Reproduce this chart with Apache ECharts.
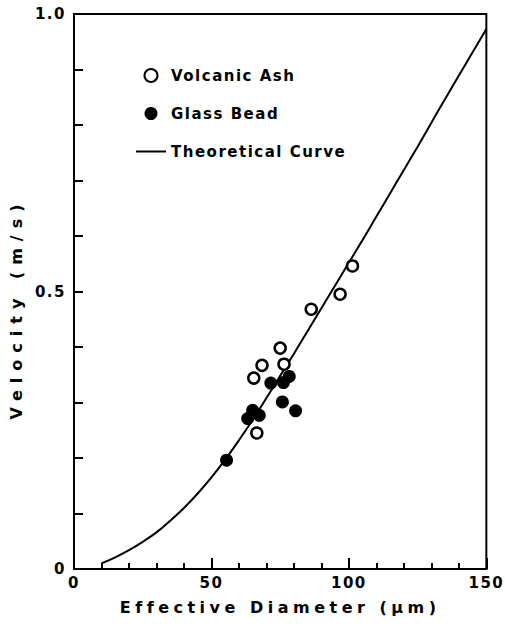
<!DOCTYPE html>
<html>
<head>
<meta charset="UTF-8">
<title>Settling velocity vs effective diameter</title>
<script type="text/javascript" src="https://cdn.jsdelivr.net/npm/echarts@6/dist/echarts.min.js"></script>
<style>
  html, body { margin: 0; padding: 0; background: #fff; }
</style>
</head>
<body>
<div id="main" style="width:505px;height:626px"></div>
<script type="text/javascript">
// measured points: [diameter (um), velocity (m/s)]
var ashPoints = [
  [101.3, 0.546], [96.8, 0.495], [86.3, 0.468], [75.0, 0.398],
  [76.4, 0.369], [68.4, 0.367], [65.4, 0.344], [66.5, 0.245]
];
var beadPoints = [
  [78.3, 0.347], [76.2, 0.336], [71.6, 0.335], [75.8, 0.301],
  [80.6, 0.285], [65.0, 0.286], [67.4, 0.277], [63.2, 0.271], [55.5, 0.196]
];
// theoretical curve
var curveDiameter = [10, 15, 20, 25, 30, 35, 40, 45, 50, 55, 60, 65, 70, 75, 80,
  85, 90, 95, 100, 105, 110, 115, 120, 125, 130, 135, 140, 145, 150];
var curveVelocity = [0.010, 0.021, 0.034, 0.049, 0.066, 0.087, 0.110, 0.136, 0.165, 0.197,
  0.232, 0.269, 0.308, 0.348, 0.388, 0.429, 0.470, 0.511, 0.552, 0.593,
  0.635, 0.677, 0.719, 0.761, 0.804, 0.847, 0.889, 0.931, 0.973];
var yTickValues = [0, 0.5, 1.0];
var yTickLabels = ['0', '0.5', '1.0'];

var FONT = 'DejaVu Sans';

var curveData = curveDiameter.map(function (d, i) {
  return [d, curveVelocity[i]];
});

var myChart = echarts.init(document.getElementById('main'), null, { renderer: 'svg' });

var option = {
  animation: false,
  backgroundColor: '#fff',
  grid: {
    left: 73, right: 15, top: 14, bottom: 57,
    show: true, borderColor: '#000', borderWidth: 2
  },
  legend: {
    data: [
      { name: 'Volcanic Ash' },
      { name: 'Glass Bead' },
      { name: 'Theoretical Curve', itemStyle: { opacity: 0 } }
    ],
    orient: 'vertical',
    left: 135, top: 68,
    padding: 0,
    itemWidth: 30, itemHeight: 13, itemGap: 23,
    selectedMode: false,
    textStyle: { color: '#000', fontSize: 15, fontWeight: 'bold', fontFamily: FONT }
  },
  xAxis: {
    type: 'value',
    min: 0, max: 150, interval: 50,
    name: 'Effective Diameter (\u03bcm)',
    nameLocation: 'middle', nameGap: 30,
    nameTextStyle: { color: '#000', fontSize: 16, fontWeight: 'bold', fontFamily: FONT },
    axisLine: { lineStyle: { color: '#000', width: 2 } },
    axisTick: { inside: true, length: 11, lineStyle: { color: '#000', width: 2 } },
    minorTick: { show: true, splitNumber: 5, length: 6, lineStyle: { color: '#000', width: 2 } },
    splitLine: { show: false },
    axisLabel: { color: '#000', fontSize: 15, fontWeight: 'bold', fontFamily: FONT, margin: 6 }
  },
  yAxis: {
    type: 'value',
    min: 0, max: 1, interval: 0.5,
    name: 'Velocity (m/s)',
    nameLocation: 'middle', nameGap: 50,
    nameTextStyle: {
      color: '#000', fontSize: 16, fontWeight: 'bold', fontFamily: FONT,
      padding: [0, 34, 0, 0]
    },
    axisLine: { lineStyle: { color: '#000', width: 2 } },
    axisTick: { inside: true, length: 9, lineStyle: { color: '#000', width: 2 } },
    minorTick: { show: true, splitNumber: 5, length: 9, lineStyle: { color: '#000', width: 2 } },
    splitLine: { show: false },
    axisLabel: {
      color: '#000', fontSize: 15, fontWeight: 'bold', fontFamily: FONT, margin: 8,
      formatter: function (v) {
        for (var i = 0; i < yTickValues.length; i++) {
          if (Math.abs(v - yTickValues[i]) < 1e-6) return yTickLabels[i];
        }
        return '';
      }
    }
  },
  series: [{
    name: 'Theoretical Curve',
    type: 'line',
    data: curveData,
    smooth: 0.4,
    symbol: 'none',
    showSymbol: false,
    lineStyle: { color: '#000', width: 2 },
    itemStyle: { color: '#000' },
    z: 1
  }, {
    name: 'Volcanic Ash',
    type: 'scatter',
    data: ashPoints,
    symbol: 'circle',
    symbolSize: 11,
    itemStyle: { color: '#fff', borderColor: '#000', borderWidth: 2.5, opacity: 1 },
    z: 3
  }, {
    name: 'Glass Bead',
    type: 'scatter',
    data: beadPoints,
    symbol: 'circle',
    symbolSize: 13,
    itemStyle: { color: '#000', opacity: 1 },
    z: 2
  }]
};
myChart.setOption(option);

// the original lettering is widely spaced
function spaceText() {
  var spacing = {
    'Effective Diameter (\u03bcm)': 4.5,
    'Velocity (m/s)': 7,
    'Volcanic Ash': 1.5,
    'Glass Bead': 1.5,
    'Theoretical Curve': 1.5
  };
  var texts = document.querySelectorAll('#main text');
  for (var i = 0; i < texts.length; i++) {
    var t = texts[i].textContent;
    var s = spacing.hasOwnProperty(t) ? spacing[t] : 1.5;
    texts[i].setAttribute('letter-spacing', s + 'px');
  }
}
myChart.on('finished', spaceText);
spaceText();
</script>
</body>
</html>
